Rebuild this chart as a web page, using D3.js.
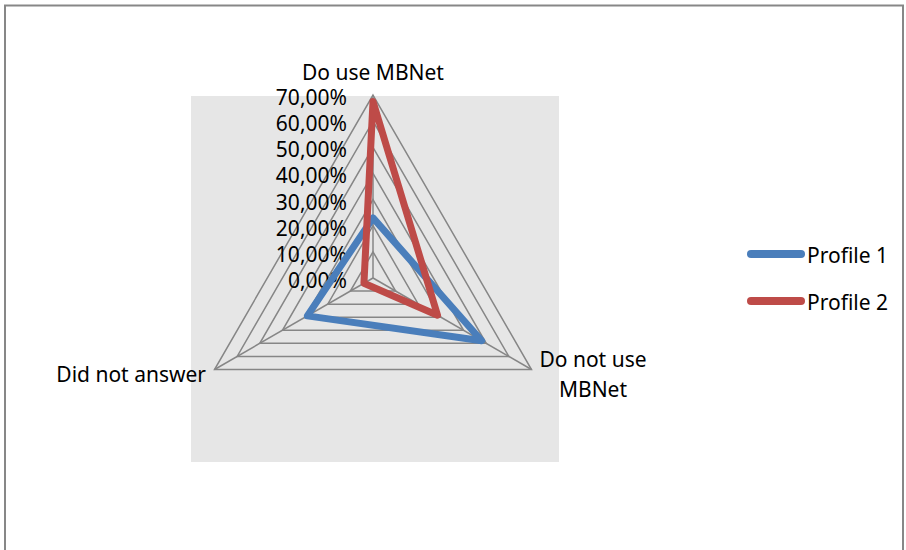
<!DOCTYPE html>
<html lang="en">

<head>
    <meta charset="UTF-8">
    <title>Radar - MBNet profiles</title>
    <style>
        html,
        body {
            background-color: white;
            margin: 0;
        }

        text {
            font-family: "Noto Sans", "Liberation Sans", sans-serif;
            font-size: 21px;
            fill: #000;
        }
    </style>
</head>

<body>
    <main></main>
    <script src="https://d3js.org/d3.v7.min.js"></script>
    <script>
        // chart data
        const axes = ['Do use MBNet', 'Do not use MBNet', 'Did not answer'];
        const ticks = [0, 0.1, 0.2, 0.3, 0.4, 0.5, 0.6, 0.7];
        const seriesNames = ['Profile 1', 'Profile 2'];
        const profile1 = [0.23, 0.48, 0.29];
        const profile2 = [0.675, 0.285, 0.04];
        const seriesColors = ['#4a7ebb', '#be4b48'];

        !(function () {
            'use strict';

            let svg,
                canvas = { width: 906, height: 550 },
                center = { x: 373, y: 278 },
                radius = 183,
                rScale, angle, fmt;

            /** Set the svg container and the frame */
            function setSvg() {
                svg = d3.select('main')
                    .append('svg')
                    .attr('width', canvas.width)
                    .attr('height', canvas.height);

                svg.append('rect')
                    .attr('x', 5).attr('y', 5.5)
                    .attr('width', 898).attr('height', 570)
                    .attr('fill', 'white')
                    .attr('stroke', '#878787')
                    .attr('stroke-width', 2);

                // plot area
                svg.append('rect')
                    .attr('x', 191).attr('y', 96)
                    .attr('width', 368).attr('height', 366)
                    .attr('fill', '#e6e6e6');
            }

            /** Scales */
            function setScales() {
                rScale = d3.scaleLinear().domain([0, 0.7]).range([0, radius]);
                angle = d3.scalePoint().domain(d3.range(axes.length + 1))
                    .range([0, 2 * Math.PI]);
                fmt = function (v) {
                    return d3.format('.2f')(v * 100).replace('.', ',') + '%';
                };
            }

            function pt(i, v) {
                const a = angle(i);
                return [center.x + rScale(v) * Math.sin(a), center.y - rScale(v) * Math.cos(a)];
            }

            /** Grid rings and spokes */
            function drawGrid() {
                const g = svg.append('g')
                    .attr('fill', 'none')
                    .attr('stroke', '#868686')
                    .attr('stroke-width', 1.5);

                const ring = d3.line().curve(d3.curveLinearClosed);

                g.selectAll('path.ring')
                    .data(ticks.slice(1))
                    .enter().append('path')
                    .attr('class', 'ring')
                    .attr('d', function (t) {
                        return ring(axes.map(function (a, i) { return pt(i, t); }));
                    });

                g.selectAll('line.spoke')
                    .data(axes)
                    .enter().append('line')
                    .attr('class', 'spoke')
                    .attr('x1', center.x).attr('y1', center.y)
                    .attr('x2', function (d, i) { return pt(i, 0.7)[0]; })
                    .attr('y2', function (d, i) { return pt(i, 0.7)[1]; });

                // tick labels
                svg.append('g')
                    .selectAll('text')
                    .data(ticks)
                    .enter().append('text')
                    .attr('x', center.x - 26)
                    .attr('y', function (t) { return center.y - rScale(t) + 10; })
                    .attr('text-anchor', 'end')
                    .text(fmt);
            }

            /** Axis labels */
            function drawLabels() {
                svg.append('text')
                    .attr('x', center.x).attr('y', 80)
                    .attr('text-anchor', 'middle')
                    .text(axes[0]);

                const t = svg.append('text')
                    .attr('x', 593).attr('y', 367)
                    .attr('text-anchor', 'middle');
                t.append('tspan').attr('x', 593).text('Do not use');
                t.append('tspan').attr('x', 593).attr('dy', 30).text('MBNet');

                svg.append('text')
                    .attr('x', 206).attr('y', 382)
                    .attr('text-anchor', 'end')
                    .text(axes[2]);
            }

            /** Series */
            function drawSeries() {
                const line = d3.line().curve(d3.curveLinearClosed);
                [profile1, profile2].forEach(function (vals, s) {
                    svg.append('path')
                        .attr('d', line(vals.map(function (v, i) { return pt(i, v); })))
                        .attr('fill', 'none')
                        .attr('stroke', seriesColors[s])
                        .attr('stroke-width', 7)
                        .attr('stroke-linejoin', 'round');
                });
            }

            /** Legend */
            function drawLegend() {
                const lg = svg.append('g').selectAll('g')
                    .data(seriesNames)
                    .enter().append('g')
                    .attr('transform', function (d, i) {
                        return 'translate(0,' + (254 + i * 47) + ')';
                    });
                lg.append('line')
                    .attr('x1', 751).attr('x2', 801)
                    .attr('stroke', function (d, i) { return seriesColors[i]; })
                    .attr('stroke-width', 8)
                    .attr('stroke-linecap', 'round');
                lg.append('text')
                    .attr('x', 807).attr('y', 9)
                    .text(function (d) { return d; });
            }

            function main() {
                setSvg();
                setScales();
                drawGrid();
                drawLabels();
                drawSeries();
                drawLegend();
            }

            main();
        }());
    </script>
</body>

</html>
